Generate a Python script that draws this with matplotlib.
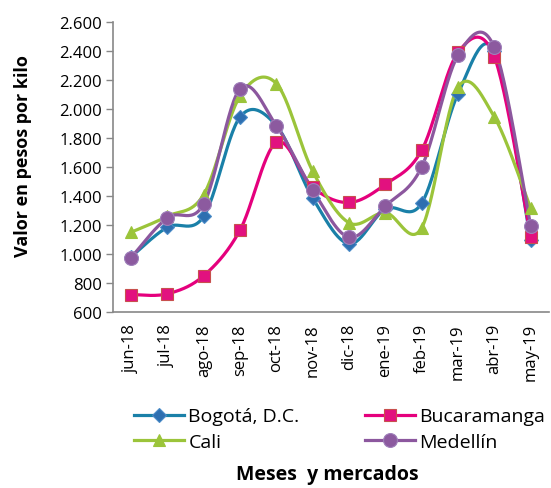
import numpy as np
import matplotlib
matplotlib.use("Agg")
import matplotlib.pyplot as plt
from matplotlib.ticker import FuncFormatter
from matplotlib.lines import Line2D

plt.rcParams['font.family'] = ['Open Sans', 'DejaVu Sans']

months = ["jun-18", "jul-18", "ago-18", "sep-18", "oct-18", "nov-18",
          "dic-18", "ene-19", "feb-19", "mar-19", "abr-19", "may-19"]
bogota = [980, 1185, 1260, 1945, 1885, 1385, 1070, 1310, 1350, 2105, 2400, 1095]
bucaramanga = [720, 725, 850, 1165, 1770, 1460, 1355, 1480, 1715, 2390, 2360, 1120]
cali = [1150, 1260, 1410, 2090, 2175, 1570, 1215, 1285, 1180, 2150, 1945, 1315]
medellin = [975, 1250, 1345, 2140, 1885, 1440, 1115, 1330, 1600, 2370, 2425, 1195]

series = [
    ("Bogotá, D.C.", bogota, "#1A80A8", "D", "#2E6FB0", "#4A8CC8", 7),
    ("Bucaramanga", bucaramanga, "#E5007D", "s", "#E2117F", "#C8504D", 8),
    ("Cali", cali, "#9BC43A", "^", "#9BC43A", "#9BC43A", 9),
    ("Medellín", medellin, "#8C579E", "o", "#8C5A9F", "#9F80BA", 10),
]


def smooth(xs, ys, n=30):
    xs = np.asarray(xs, float)
    ys = np.asarray(ys, float)
    P = np.column_stack([xs, ys])
    m = len(P)
    out = []
    for i in range(m - 1):
        p0 = P[i - 1] if i > 0 else P[i]
        p1 = P[i]
        p2 = P[i + 1]
        p3 = P[i + 2] if i + 2 < m else P[i + 1]
        c1 = p1 + (p2 - p0) / 6.0
        c2 = p2 - (p3 - p1) / 6.0
        t = np.linspace(0, 1, n)[:, None]
        seg = ((1 - t) ** 3) * p1 + 3 * ((1 - t) ** 2) * t * c1 + 3 * (1 - t) * t ** 2 * c2 + t ** 3 * p2
        out.append(seg if i == 0 else seg[1:])
    s = np.vstack(out)
    return s[:, 0], s[:, 1]


fig = plt.figure(figsize=(5.51, 4.89), dpi=100)
ax = fig.add_axes([0.205, 0.36, 0.791, 0.593])
x = np.arange(len(months))
handles = {}
for name, vals, lc, mk, mf, me, ms in series:
    sx, sy = smooth(x, vals)
    ax.plot(sx, sy, color=lc, lw=2.3, zorder=2, solid_capstyle='round')
    ax.plot(x, vals, ls='none', marker=mk, ms=ms, mfc=mf, mec=me, mew=0.8, zorder=3)
    handles[name] = Line2D([0], [0], color=lc, lw=2.3, marker=mk, ms=ms, mfc=mf, mec=me, mew=0.8)

ax.set_xlim(-0.5, 11.5)
ax.set_ylim(600, 2600)
ax.set_yticks(np.arange(600, 2601, 200))
ax.yaxis.set_major_formatter(FuncFormatter(lambda v, p: f"{int(v):,}".replace(",", ".")))
ax.set_xticks(x)
ax.set_xticklabels(months, rotation=90, fontsize=12)
ax.tick_params(axis='y', labelsize=12, length=5, color='#888888', width=1, pad=3)
ax.tick_params(axis='x', length=0, pad=8)
for s in ['top', 'right']:
    ax.spines[s].set_visible(False)
for s in ['left', 'bottom']:
    ax.spines[s].set_color('#888888')
    ax.spines[s].set_linewidth(1.2)

fig.text(0.041, 0.681, "Valor en pesos por kilo", rotation=90, ha='center', va='center',
         fontsize=13, fontweight='bold')
fig.text(0.594, 0.029, "Meses  y mercados", ha='center', va='center', fontsize=14, fontweight='bold')

order = ["Bogotá, D.C.", "Cali", "Bucaramanga", "Medellín"]
leg = fig.legend([handles[k] for k in order], order, ncol=2, loc='center left',
                 bbox_to_anchor=(0.243, 0.12), frameon=False, fontsize=14,
                 handlelength=2.6, handletextpad=0.2, columnspacing=3.35,
                 labelspacing=0.4, borderpad=0, borderaxespad=0)

fig.savefig("out.png", dpi=100)
